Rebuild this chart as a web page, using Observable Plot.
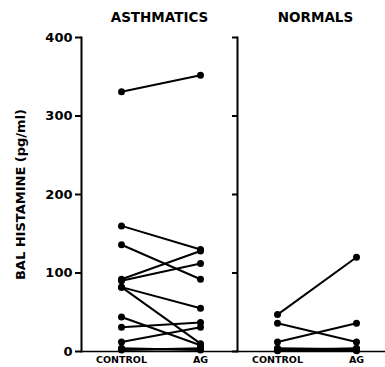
<!DOCTYPE html>
<html>
<head>
<meta charset="utf-8">
<script src="https://cdn.jsdelivr.net/npm/d3@7"></script>
<script src="https://cdn.jsdelivr.net/npm/@observablehq/plot@0.6"></script>
<style>
  html, body { margin: 0; padding: 0; background: #fff; }
</style>
</head>
<body>
<div id="chart"></div>
<script>
const groups = ["ASTHMATICS", "NORMALS"];
const phases = ["CONTROL", "AG"];
const yTicks = [0, 100, 200, 300, 400];
const yLabel = "BAL HISTAMINE (pg/ml)";

const asthmaticsControl = [331, 160, 136, 92, 90, 82, 82, 44, 31, 12, 4, 2, 3];
const asthmaticsAG      = [352, 130, 92, 128, 112, 55, 10, 8, 37, 31, 2, 4, 3];
const normalsControl = [47, 36, 12, 4, 3, 2, 1];
const normalsAG      = [120, 12, 36, 3, 2, 4, 1];

const rows = [];
function addPairs(group, ctrl, ag) {
  ctrl.forEach((v, i) => {
    const id = group + i;
    rows.push({group, phase: phases[0], value: v, id});
    rows.push({group, phase: phases[1], value: ag[i], id});
  });
}
addPairs(groups[0], asthmaticsControl, asthmaticsAG);
addPairs(groups[1], normalsControl, normalsAG);

const chart = Plot.plot({
  width: 385,
  height: 367,
  marginLeft: 81,
  marginRight: -8,
  marginTop: 37,
  marginBottom: 16,
  style: {fontFamily: "DejaVu Sans", fontWeight: "bold", color: "#000", background: "#fff"},
  fx: {domain: groups, padding: 0},
  x: {domain: phases, type: "point", padding: 0.487, align: 0.519},
  y: {domain: [0, 400], range: [351, 37]},
  marks: [
    Plot.frame({anchor: "left", stroke: "#000", strokeWidth: 2}),
    Plot.ruleY([0], {stroke: "#000", strokeWidth: 1.5}),
    Plot.axisFx({anchor: "top", tickSize: 0, tickPadding: 16, label: null, fontSize: 13.5}),
    Plot.axisX({anchor: "bottom", tickSize: 0, tickPadding: 5, label: null, fontSize: 9.5}),
    Plot.axisY({anchor: "left", ticks: yTicks, tickSize: 6, tickPadding: 3, strokeWidth: 2,
      fontSize: 13, label: yLabel, labelAnchor: "center", labelArrow: "none", labelOffset: 66}),
    Plot.axisY({anchor: "left", facetAnchor: "right", ticks: yTicks, tickSize: 5, strokeWidth: 2,
      tickFormat: () => "", label: null}),
    Plot.line(rows, {fx: "group", x: "phase", y: "value", z: "id", stroke: "#000", strokeWidth: 2}),
    Plot.dot(rows, {fx: "group", x: "phase", y: "value", r: 3.5, fill: "#000", stroke: "none"})
  ]
});
document.getElementById("chart").appendChild(chart);
</script>
</body>
</html>
